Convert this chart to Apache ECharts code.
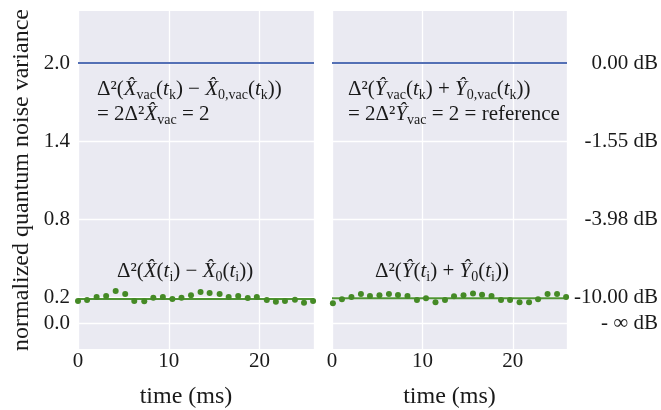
<!DOCTYPE html>
<html>
<head>
    <meta charset="utf-8">
    <title>quantum noise variance</title>
    <script src="https://cdn.jsdelivr.net/npm/echarts@6.0.0/dist/echarts.min.js"></script>
    <style>
        html, body { margin: 0; padding: 0; background: #fff; }
        #main { width: 661px; height: 410px; }
    </style>
</head>
<body>
<div id="main"></div>
<script>
    // data
    var xTicks = [0, 10, 20];
    var yTicks = [0.0, 0.2, 0.8, 1.4, 2.0];
    var dbLabels = ['- \u221E dB', '-10.00 dB', '-3.98 dB', '-1.55 dB', '0.00 dB'];
    var vacLevel = 2.0;
    var fitLeft = 0.185;
    var fitRight = 0.19;
    var lineEnds = [0, 26];

    var tLeft = [0, 1.0, 2.05, 3.1, 4.15, 5.2, 6.2, 7.3, 8.3, 9.35, 10.4, 11.4, 12.45, 13.5, 14.5, 15.6, 16.6, 17.65, 18.7, 19.7, 20.8, 21.8, 22.8, 23.9, 24.9, 25.9];
    var vLeft = [0.169, 0.177, 0.200, 0.208, 0.246, 0.223, 0.169, 0.167, 0.195, 0.200, 0.185, 0.195, 0.213, 0.238, 0.231, 0.223, 0.200, 0.208, 0.192, 0.200, 0.177, 0.164, 0.169, 0.179, 0.156, 0.169];
    var tRight = [0.1, 1.1, 2.15, 3.2, 4.2, 5.25, 6.3, 7.3, 8.35, 9.4, 10.4, 11.45, 12.5, 13.5, 14.55, 15.6, 16.6, 17.65, 18.7, 19.7, 20.75, 21.8, 22.8, 23.85, 24.9, 25.9];
    var vRight = [0.151, 0.182, 0.200, 0.223, 0.208, 0.213, 0.223, 0.215, 0.208, 0.177, 0.190, 0.159, 0.177, 0.205, 0.213, 0.226, 0.218, 0.208, 0.177, 0.177, 0.159, 0.159, 0.182, 0.223, 0.223, 0.200];

    var FONT = 'Liberation Serif';
    var INK = '#1a1a1a';
    var BLUE = '#5470B5';
    var GREEN_LINE = '#4F9533';
    var GREEN_DOT = '#458A26';

    function pairs(xs, ys) {
        return xs.map(function (x, i) { return [x, ys[i]]; });
    }
    function level(v) {
        return lineEnds.map(function (x) { return [x, v]; });
    }
    function tickKey(v) { return Number(v).toFixed(1); }
    var leftLabel = {}, rightLabel = {};
    yTicks.forEach(function (v, i) {
        leftLabel[tickKey(v)] = v.toFixed(1);
        rightLabel[tickKey(v)] = dbLabels[i];
    });

    var rich = {
        i: { fontFamily: FONT, fontSize: 21, fontStyle: 'italic', color: INK, lineHeight: 25 },
        s: { fontFamily: FONT, fontSize: 14, color: INK, lineHeight: 12, verticalAlign: 'bottom' }
    };
    function note(x, y, text) {
        return {
            type: 'text', left: x, top: y, z: 10,
            style: {
                text: text, rich: rich,
                font: '21px "' + FONT + '"', fill: INK, lineHeight: 25
            }
        };
    }
    var X = '{i|X\u0302}', Y = '{i|Y\u0302}';

    var myChart = echarts.init(document.getElementById('main'));

    var xAxisBase = {
        type: 'value', min: 0, max: 26, interval: 10,
        axisLine: { show: false }, axisTick: { show: false },
        splitLine: { show: true, lineStyle: { color: '#ffffff', width: 1.3 } },
        axisLabel: { fontFamily: FONT, fontSize: 21, color: INK, margin: 2, showMaxLabel: false },
        name: 'time (ms)', nameLocation: 'middle', nameGap: 36,
        nameTextStyle: { fontFamily: FONT, fontSize: 24, color: INK }
    };
    var yAxisBase = {
        type: 'value', min: -0.2, max: 2.4, interval: 0.2,
        axisLine: { show: false }, axisTick: { show: false },
        splitLine: { show: false }
    };

    function gridLines(idx) {
        return {
            type: 'line', xAxisIndex: idx, yAxisIndex: idx, data: [], z: 1, silent: true,
            markLine: {
                silent: true, symbol: 'none', animation: false, z: 1,
                label: { show: false },
                lineStyle: { color: '#ffffff', width: 1.3, type: 'solid' },
                data: yTicks.map(function (v) { return { yAxis: v }; })
            }
        };
    }

    myChart.setOption({
        animation: false,
        grid: [
            { left: 78, top: 11, width: 236, height: 338, show: true, backgroundColor: '#EAEAF2', borderWidth: 0,
              containLabel: false, outerBoundsMode: 'none' },
            { left: 332, top: 11, width: 235, height: 338, show: true, backgroundColor: '#EAEAF2', borderWidth: 0,
              containLabel: false, outerBoundsMode: 'none' }
        ],
        xAxis: [
            Object.assign({}, xAxisBase, { gridIndex: 0, nameTextStyle: Object.assign({}, xAxisBase.nameTextStyle, { padding: [0, 20, 0, 0] }) }),
            Object.assign({}, xAxisBase, { gridIndex: 1 })
        ],
        yAxis: [
            Object.assign({}, yAxisBase, {
                gridIndex: 0,
                axisLabel: {
                    fontFamily: FONT, fontSize: 21, color: INK, margin: 8,
                    formatter: function (v) { return leftLabel[tickKey(v)] || ''; }
                },
                name: 'normalized quantum noise variance', nameLocation: 'middle', nameGap: 44,
                nameTextStyle: { fontFamily: FONT, fontSize: 24, color: INK }
            }),
            Object.assign({}, yAxisBase, {
                gridIndex: 1, position: 'right',
                axisLabel: {
                    fontFamily: FONT, fontSize: 21, color: INK, margin: 91, align: 'right',
                    formatter: function (v) { return rightLabel[tickKey(v)] || ''; }
                }
            })
        ],
        series: [
            gridLines(0),
            gridLines(1),
            { type: 'line', xAxisIndex: 0, yAxisIndex: 0, data: level(vacLevel), showSymbol: false, z: 3,
              lineStyle: { color: BLUE, width: 2.2 } },
            { type: 'line', xAxisIndex: 1, yAxisIndex: 1, data: level(vacLevel), showSymbol: false, z: 3,
              lineStyle: { color: BLUE, width: 2.2 } },
            { type: 'line', xAxisIndex: 0, yAxisIndex: 0, data: level(fitLeft), showSymbol: false, z: 3,
              lineStyle: { color: GREEN_LINE, width: 2 } },
            { type: 'line', xAxisIndex: 1, yAxisIndex: 1, data: level(fitRight), showSymbol: false, z: 3,
              lineStyle: { color: GREEN_LINE, width: 2 } },
            { type: 'scatter', xAxisIndex: 0, yAxisIndex: 0, data: pairs(tLeft, vLeft), symbolSize: 6, z: 4,
              itemStyle: { color: GREEN_DOT, opacity: 1 } },
            { type: 'scatter', xAxisIndex: 1, yAxisIndex: 1, data: pairs(tRight, vRight), symbolSize: 6, z: 4,
              itemStyle: { color: GREEN_DOT, opacity: 1 } }
        ],
        graphic: [
            note(97, 77, '\u0394\u00B2(' + X + '{s|vac}({i|t}{s|k}) \u2212 ' + X + '{s|0,vac}({i|t}{s|k}))\n= 2\u0394\u00B2' + X + '{s|vac} = 2'),
            note(348, 77, '\u0394\u00B2(' + Y + '{s|vac}({i|t}{s|k}) + ' + Y + '{s|0,vac}({i|t}{s|k}))\n= 2\u0394\u00B2' + Y + '{s|vac} = 2 = reference'),
            note(117, 259, '\u0394\u00B2(' + X + '({i|t}{s|i}) \u2212 ' + X + '{s|0}({i|t}{s|i}))'),
            note(375, 259, '\u0394\u00B2(' + Y + '({i|t}{s|i}) + ' + Y + '{s|0}({i|t}{s|i}))')
        ]
    });
</script>
</body>
</html>
